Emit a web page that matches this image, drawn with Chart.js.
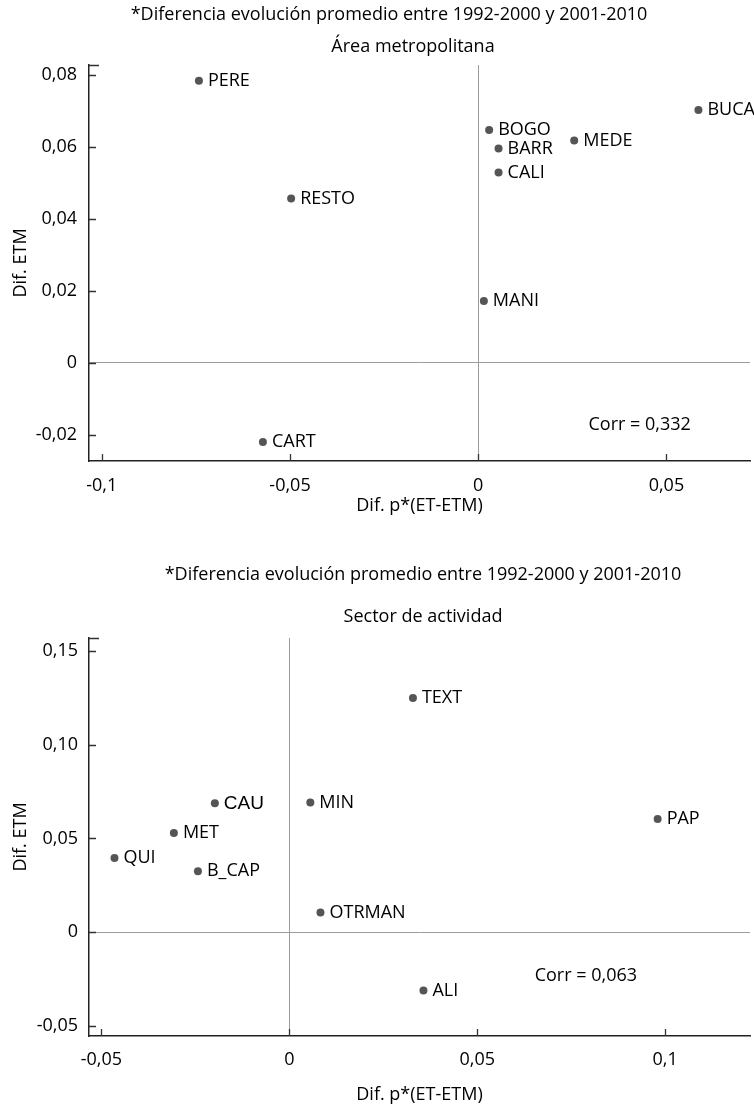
<!DOCTYPE html>
<html><head><meta charset="utf-8">
<script src="https://cdn.jsdelivr.net/npm/chart.js@4.4.1/dist/chart.umd.min.js"></script>
<style>
html,body{margin:0;padding:0;background:#fff;overflow:hidden;width:754px;height:1106px;}
.wrap{position:absolute;left:0;width:754px;}
canvas{display:block;}
</style></head><body>
<div class="wrap" style="top:0;height:540px"><canvas id="c1" width="754" height="540"></canvas></div>
<div class="wrap" style="top:540px;height:566px"><canvas id="c2" width="754" height="566"></canvas></div>
<script>
// ---------- text ----------
const headingTop = '*Diferencia evolución promedio entre 1992-2000 y 2001-2010';
const subTop = 'Área metropolitana';
const headingBottom = '*Diferencia evolución promedio entre 1992-2000 y 2001-2010';
const subBottom = 'Sector de actividad';
const xAxisTitle = 'Dif. p*(ET-ETM)';
const yAxisTitle = 'Dif. ETM';

// ---------- chart 1: Área metropolitana ----------
const areaLabels = ['PERE', 'RESTO', 'CART', 'MANI', 'BOGO', 'BARR', 'CALI', 'MEDE', 'BUCA'];
const areaX = [-0.0742, -0.0497, -0.0572, 0.0015, 0.0029, 0.0054, 0.0054, 0.0255, 0.0585];
const areaY = [0.0784, 0.0457, -0.0220, 0.0172, 0.0647, 0.0596, 0.0529, 0.0618, 0.0703];
const areaCorr = 'Corr = 0,332';
const areaXTicks = [-0.1, -0.05, 0, 0.05];
const areaXTickLabels = ['-0,1', '-0,05', '0', '0,05'];
const areaYTicks = [-0.02, 0, 0.02, 0.04, 0.06, 0.08];
const areaYTickLabels = ['-0,02', '0', '0,02', '0,04', '0,06', '0,08'];

// ---------- chart 2: Sector de actividad ----------
const sectorLabels = ['TEXT', 'MIN', 'PAP', 'OTRMAN', 'ALI', 'CAU', 'MET', 'QUI', 'B_CAP'];
const sectorX = [0.0329, 0.0056, 0.0980, 0.0083, 0.0357, -0.0198, -0.0307, -0.0465, -0.0243];
const sectorY = [0.1248, 0.0692, 0.0604, 0.0105, -0.0310, 0.0687, 0.0529, 0.0396, 0.0325];
const sectorCorr = 'Corr = 0,063';
const sectorXTicks = [-0.05, 0, 0.05, 0.1];
const sectorXTickLabels = ['-0,05', '0', '0,05', '0,1'];
const sectorYTicks = [-0.05, 0, 0.05, 0.10, 0.15];
const sectorYTickLabels = ['-0,05', '0', '0,05', '0,10', '0,15'];

const FONT = "'Open Sans', 'Noto Sans', sans-serif";
const TEXT_COLOR = '#000';
Chart.defaults.font.family = FONT;
Chart.defaults.color = TEXT_COLOR;

const sketchPlugin = {
  id: 'sketch',
  afterDraw(chart, args, opts) {
    const ctx = chart.ctx;
    const {left, top, bottom} = chart.chartArea;
    const xs = chart.scales.x, ys = chart.scales.y;
    ctx.save();
    // inward tick marks
    ctx.strokeStyle = '#333';
    ctx.lineWidth = 1.3;
    ctx.beginPath();
    ys.ticks.forEach(t => {
      const py = Math.round(ys.getPixelForValue(t.value)) + 0.5;
      ctx.moveTo(left, py); ctx.lineTo(left + 7, py);
    });
    ctx.moveTo(left, top + 0.5); ctx.lineTo(left + 10, top + 0.5);
    xs.ticks.forEach(t => {
      const px = Math.round(xs.getPixelForValue(t.value)) + 0.5;
      ctx.moveTo(px, bottom); ctx.lineTo(px, bottom - 7);
    });
    ctx.stroke();
    // point labels
    const meta = chart.getDatasetMeta(0);
    ctx.fillStyle = TEXT_COLOR;
    ctx.textBaseline = 'middle';
    ctx.textAlign = 'left';
    meta.data.forEach((pt, i) => {
      const lab = chart.data.labels[i];
      ctx.font = (lab === 'CAU') ? "19px 'Liberation Sans', Arial, sans-serif" : '18px ' + FONT;
      ctx.fillText(lab, pt.x + 9, pt.y);
    });
    // correlation note (placed in data units)
    ctx.font = '18px ' + FONT;
    ctx.textAlign = 'center';
    ctx.fillText(opts.corr.text, xs.getPixelForValue(opts.corr.x), ys.getPixelForValue(opts.corr.y));
    // headings
    opts.headings.forEach(h => ctx.fillText(h.text, h.x, h.y));
    ctx.restore();
  }
};

function makeChart(id, labels, xv, yv, cfg) {
  const pts = xv.map((x, i) => ({x: x, y: yv[i]}));
  return new Chart(document.getElementById(id), {
    type: 'scatter',
    data: {
      labels: labels,
      datasets: [{
        data: pts,
        pointRadius: 4,
        pointHoverRadius: 4,
        pointBackgroundColor: '#555',
        pointBorderWidth: 0,
        showLine: false
      }]
    },
    options: {
      responsive: false,
      animation: false,
      devicePixelRatio: 1,
      events: [],
      layout: {padding: {top: cfg.padTop, left: 0, right: 0, bottom: 0}},
      plugins: {
        legend: {display: false},
        tooltip: {enabled: false},
        title: {display: false},
        sketch: {headings: cfg.headings, corr: cfg.corr}
      },
      scales: {
        x: {
          type: 'linear',
          min: cfg.xMin, max: cfg.xMax,
          afterBuildTicks: s => { s.ticks = cfg.xTicks.map(v => ({value: v})); },
          afterFit: s => { s.height = cfg.xAxisHeight; },
          ticks: {
            callback: (v, i) => cfg.xTickLabels[i],
            font: {size: 18}, color: TEXT_COLOR, padding: cfg.xTickPad,
            maxRotation: 0, autoSkip: false
          },
          grid: {
            drawTicks: false,
            lineWidth: 1,
            color: c => (c.tick && c.tick.value === 0) ? '#9c9c9c' : 'rgba(0,0,0,0)'
          },
          border: {display: true, color: '#222', width: 1.5},
          title: {
            display: true, text: xAxisTitle, font: {size: 18}, color: TEXT_COLOR,
            padding: {top: 0, bottom: cfg.xTitlePad}
          }
        },
        y: {
          type: 'linear',
          min: cfg.yMin, max: cfg.yMax,
          afterBuildTicks: s => { s.ticks = cfg.yTicks.map(v => ({value: v})); },
          afterFit: s => { s.width = 89; },
          ticks: {
            callback: (v, i) => cfg.yTickLabels[i],
            font: {size: 18}, color: TEXT_COLOR, padding: cfg.yTickPad, autoSkip: false
          },
          grid: {
            drawTicks: false,
            lineWidth: 1,
            color: c => (c.tick && c.tick.value === 0) ? '#9c9c9c' : 'rgba(0,0,0,0)'
          },
          border: {display: true, color: '#222', width: 1.5},
          title: {
            display: true, text: yAxisTitle, font: {size: 18}, color: TEXT_COLOR,
            padding: {top: 10, bottom: 0}
          }
        }
      }
    },
    plugins: [sketchPlugin]
  });
}

makeChart('c1', areaLabels, areaX, areaY, {
  padTop: 65,
  xMin: -0.1034, xMax: 0.0722, yMin: -0.0273, yMax: 0.0828,
  xTicks: areaXTicks, xTickLabels: areaXTickLabels,
  yTicks: areaYTicks, yTickLabels: areaYTickLabels,
  xAxisHeight: 79, xTickPad: 14, xTitlePad: 23, yTickPad: 12,
  headings: [{text: headingTop, x: 389, y: 15}, {text: subTop, x: 413, y: 47}],
  corr: {text: areaCorr, x: 0.0429, y: -0.0173}
});

makeChart('c2', sectorLabels, sectorX, sectorY, {
  padTop: 98,
  xMin: -0.05328, xMax: 0.12257, yMin: -0.0553, yMax: 0.1568,
  xTicks: sectorXTicks, xTickLabels: sectorXTickLabels,
  yTicks: sectorYTicks, yTickLabels: sectorYTickLabels,
  xAxisHeight: 70, xTickPad: 13, xTitlePad: 0, yTickPad: 11,
  headings: [{text: headingBottom, x: 423, y: 35}, {text: subBottom, x: 423, y: 77}],
  corr: {text: sectorCorr, x: 0.0789, y: -0.0231}
});
</script>
</body></html>
